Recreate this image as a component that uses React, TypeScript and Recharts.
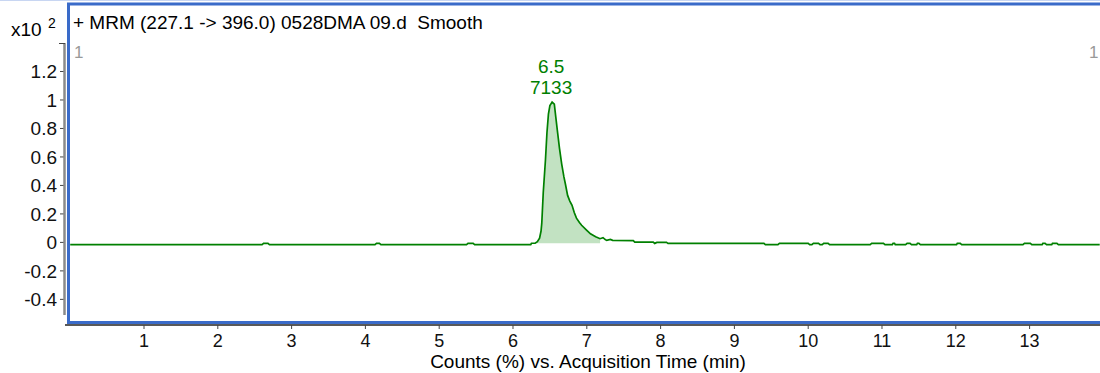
import React from "react";
import { ComposedChart, Line, Area, XAxis, YAxis, ReferenceDot } from "recharts";

// Acquisition time (min)
const traceTimes: number[] = [
  0, 2.6, 2.62, 2.68, 2.7, 4.13, 4.15, 4.19, 4.21, 5.37, 5.39, 5.46, 5.48, 6.24, 6.25, 6.3,
  6.33, 6.36, 6.38, 6.39, 6.41, 6.44, 6.46, 6.48, 6.5, 6.53, 6.56, 6.58, 6.6, 6.63, 6.66,
  6.69, 6.71, 6.74, 6.77, 6.8, 6.83, 6.86, 6.9, 6.93, 7.0, 7.05, 7.12, 7.18, 7.22, 7.25,
  7.27, 7.32, 7.35, 7.63, 7.65, 7.9, 7.92, 7.95, 8.08, 8.1, 9.4, 9.42, 9.59, 9.61, 10.0,
  10.02, 10.05, 10.07, 10.14, 10.16, 10.19, 10.21, 10.27, 10.29, 10.84, 10.86, 11.02, 11.04,
  11.14, 11.15, 11.17, 11.18, 11.32, 11.34, 11.38, 11.4, 11.47, 11.48, 11.5, 11.52, 12.01,
  12.02, 12.06, 12.08, 12.91, 12.93, 13.01, 13.03, 13.17, 13.18, 13.21, 13.23, 13.3, 13.31,
  13.37, 13.39, 13.95,
];
// Counts (x10^2)
const traceCounts: number[] = [
  -0.016, -0.016, -0.007, -0.007, -0.016, -0.016, -0.007, -0.007, -0.016, -0.016, -0.007,
  -0.007, -0.016, -0.016, -0.006, -0.005,
  0.005, 0.03, 0.08, 0.135, 0.35, 0.58, 0.77, 0.9, 0.96, 0.985, 0.97, 0.88, 0.79, 0.66, 0.55,
  0.46, 0.41, 0.33, 0.29, 0.26, 0.21, 0.17, 0.14, 0.12, 0.085, 0.06, 0.04, 0.026, 0.033, 0.02,
  0.014, 0.021, 0.014, 0.012, 0.002, 0.002, -0.007, 0.0, 0.0, -0.007, -0.007, -0.016, -0.016,
  -0.007, -0.007,
  -0.016, -0.016, -0.007, -0.007, -0.016, -0.016, -0.007, -0.007, -0.016, -0.016, -0.007,
  -0.007, -0.016,
  -0.016, -0.007, -0.007, -0.016, -0.016, -0.007, -0.007, -0.016, -0.016, -0.007, -0.007,
  -0.016, -0.016,
  -0.007, -0.007, -0.016, -0.016, -0.007, -0.007, -0.016, -0.016, -0.007, -0.007, -0.016,
  -0.016, -0.007,
  -0.007, -0.016, -0.016,
];

const peakStart = 6.3;
const peakEnd = 7.18;
const peakRT = "6.5";
const peakArea = "7133";
const peakApexTime = 6.53;
const peakApexCount = 0.985;

const xTicks: number[] = [1, 2, 3, 4, 5, 6, 7, 8, 9, 10, 11, 12, 13];
const yTicks: number[] = [-0.4, -0.2, 0, 0.2, 0.4, 0.6, 0.8, 1, 1.2];

const titleText = "+ MRM (227.1 -> 396.0) 0528DMA 09.d\u00a0\u00a0Smooth";
const xAxisTitle = "Counts (%) vs. Acquisition Time (min)";

const trace = traceTimes.map((t, i) => ({ t, v: traceCounts[i] }));
const peakFill = trace.filter((d) => d.t >= peakStart && d.t <= peakEnd);

const FONT = "'Liberation Sans', Arial, sans-serif";
const GREEN = "#008000";
const FS = 19;

const fmtY = (v: number) => {
  const r = Math.round(v * 10) / 10;
  return String(r);
};

const PeakLabel = (props: any) => {
  const { cx, cy } = props;
  if (cx == null || cy == null) return null;
  return (
    <g>
      <text x={cx - 1} y={cy - 29} textAnchor="middle" fill={GREEN} fontSize={FS} fontFamily={FONT}>
        {peakRT}
      </text>
      <text x={cx - 1} y={cy - 8} textAnchor="middle" fill={GREEN} fontSize={FS} fontFamily={FONT}>
        {peakArea}
      </text>
    </g>
  );
};

export default function App() {
  return (
    <div style={{ position: "absolute", left: 0, top: 0, width: 1100, height: 373, background: "#fff" }}>
      <ComposedChart
        width={1100}
        height={373}
        margin={{ top: 43, right: 0, bottom: 0, left: 0 }}
        style={{ fontFamily: FONT }}
      >
        <XAxis
          type="number"
          dataKey="t"
          domain={[-0.0705, 13.954]}
          ticks={xTicks}
          allowDataOverflow
          height={48}
          tickSize={4}
          tickMargin={5}
          axisLine={{ stroke: "#222", strokeWidth: 1.5 }}
          tickLine={{ stroke: "#444", strokeWidth: 1 }}
          tick={{ fill: "#111", fontSize: 18, fontFamily: FONT }}
        />
        <YAxis
          type="number"
          domain={[-0.58, 1.4]}
          ticks={yTicks}
          allowDataOverflow
          width={65}
          axisLine={false}
          tickSize={5}
          tickMargin={3}
          tickFormatter={fmtY}
          tickLine={{ stroke: "#444", strokeWidth: 1 }}
          tick={{ fill: "#111", fontSize: FS, fontFamily: FONT }}
        />
        <Area
          data={peakFill}
          dataKey="v"
          type="linear"
          baseValue={-0.006}
          stroke="none"
          fill="#c2e2c2"
          fillOpacity={1}
          isAnimationActive={false}
        />
        <Line
          data={trace}
          dataKey="v"
          type="linear"
          stroke={GREEN}
          strokeWidth={1.7}
          dot={false}
          isAnimationActive={false}
        />
        <ReferenceDot x={peakApexTime} y={peakApexCount} r={0} shape={PeakLabel} />
      </ComposedChart>
      <svg
        width={1100}
        height={373}
        style={{ position: "absolute", left: 0, top: 0, pointerEvents: "none" }}
      >
        <line x1={0} y1={0.5} x2={1100} y2={0.5} stroke="#c8d6f2" strokeWidth={1} />
        <rect x={68.5} y={4} width={1040} height={318.5} fill="none" stroke="#3a6bc9" strokeWidth={3} />
        <line x1={64.5} y1={43} x2={64.5} y2={315} stroke="#8a8a8a" strokeWidth={2.5} />
        <line x1={59} y1={43.5} x2={65} y2={43.5} stroke="#444" strokeWidth={1} />
        <text x={73} y={29} fontSize={FS} fontFamily={FONT} fill="#000">
          {titleText}
        </text>
        <text x={11} y={36} fontSize={FS} fontFamily={FONT} fill="#000">
          x10
        </text>
        <text x={48} y={28} fontSize={14} fontFamily={FONT} fill="#000">
          2
        </text>
        <text x={74} y={58} fontSize={17} fontFamily={FONT} fill="#999">
          1
        </text>
        <text x={1089} y={58} fontSize={17} fontFamily={FONT} fill="#999">
          1
        </text>
        <text x={588} y={367.5} textAnchor="middle" fontSize={FS} fontFamily={FONT} fill="#000">
          {xAxisTitle}
        </text>
      </svg>
    </div>
  );
}
